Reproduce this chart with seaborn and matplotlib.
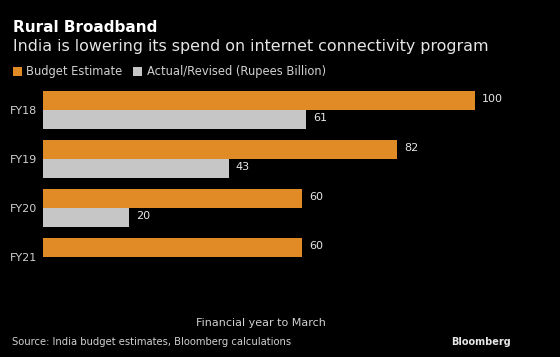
import matplotlib
matplotlib.use("Agg")
import matplotlib.pyplot as plt
import numpy as np
import pandas as pd
import seaborn as sns
from matplotlib.patches import Patch

years = ["FY18", "FY19", "FY20", "FY21"]
budget_estimate = [100, 82, 60, 60]
actual_revised = [61, 43, 20, np.nan]
series_names = ["Budget Estimate", "Actual/Revised (Rupees Billion)"]

df = pd.DataFrame({
    "Year": years * 2,
    "Value": budget_estimate + actual_revised,
    "Series": [series_names[0]] * 4 + [series_names[1]] * 4,
})

sns.set_theme(style="dark")
plt.rcParams["font.family"] = ["DejaVu Sans"]

orange = "#E08B26"
grey = "#C6C6C6"
palette = {series_names[0]: orange, series_names[1]: grey}

fig = plt.figure(figsize=(5.6, 3.57), dpi=100, facecolor="black")
ax = fig.add_axes([43 / 560, 75.5 / 357, 436 / 560, 196 / 357])
ax.set_facecolor("black")

sns.barplot(
    data=df, x="Value", y="Year", hue="Series", order=years,
    hue_order=series_names, palette=palette, orient="h",
    width=0.78, saturation=1, legend=False, linewidth=0, ax=ax,
)

for container in ax.containers:
    for bar in container:
        w = bar.get_width()
        if np.isnan(w) or w == 0:
            continue
        ax.text(w + 1.6, bar.get_y() + bar.get_height() / 2 - 0.03,
                f"{w:.0f}", va="center", ha="left", color="#E6E6E6", fontsize=8)

ax.set_xlim(0, 101)
ax.set_ylim(3.5, -0.5)
ax.set_xticks([])
ax.set_ylabel("")
ax.set_xlabel("Financial year to March", color="#D0D0D0", fontsize=8, labelpad=26)
ax.tick_params(axis="y", colors="#D0D0D0", labelsize=8, length=0, pad=4)
for s in ax.spines.values():
    s.set_visible(False)
ax.grid(False)

fig.text(13 / 560, 1 - 27 / 357, "Rural Broadband", color="white",
         fontsize=11, fontweight="bold", va="center", ha="left")
fig.text(13 / 560, 1 - 47 / 357,
         "India is lowering its spend on internet connectivity program",
         color="#E6E6E6", fontsize=11.4, va="center", ha="left")

handles = [Patch(facecolor=orange, edgecolor="none", label=series_names[0]),
           Patch(facecolor=grey, edgecolor="none", label=series_names[1])]
fig.legend(handles=handles, loc="center left", bbox_to_anchor=(0.004, 1 - 72 / 357),
           ncol=2, frameon=False, fontsize=8.3, handlelength=0.8, handleheight=0.8,
           handletextpad=0.4, columnspacing=0.9, labelcolor="#D0D0D0")

fig.text(12 / 560, 1 - 342 / 357,
         "Source: India budget estimates, Bloomberg calculations",
         color="#D0D0D0", fontsize=7.2, va="center", ha="left")
fig.text(511 / 560, 1 - 342 / 357, "Bloomberg", color="#E6E6E6",
         fontsize=7, fontweight="bold", va="center", ha="right")

fig.savefig("out.png", dpi=100, facecolor="black")
